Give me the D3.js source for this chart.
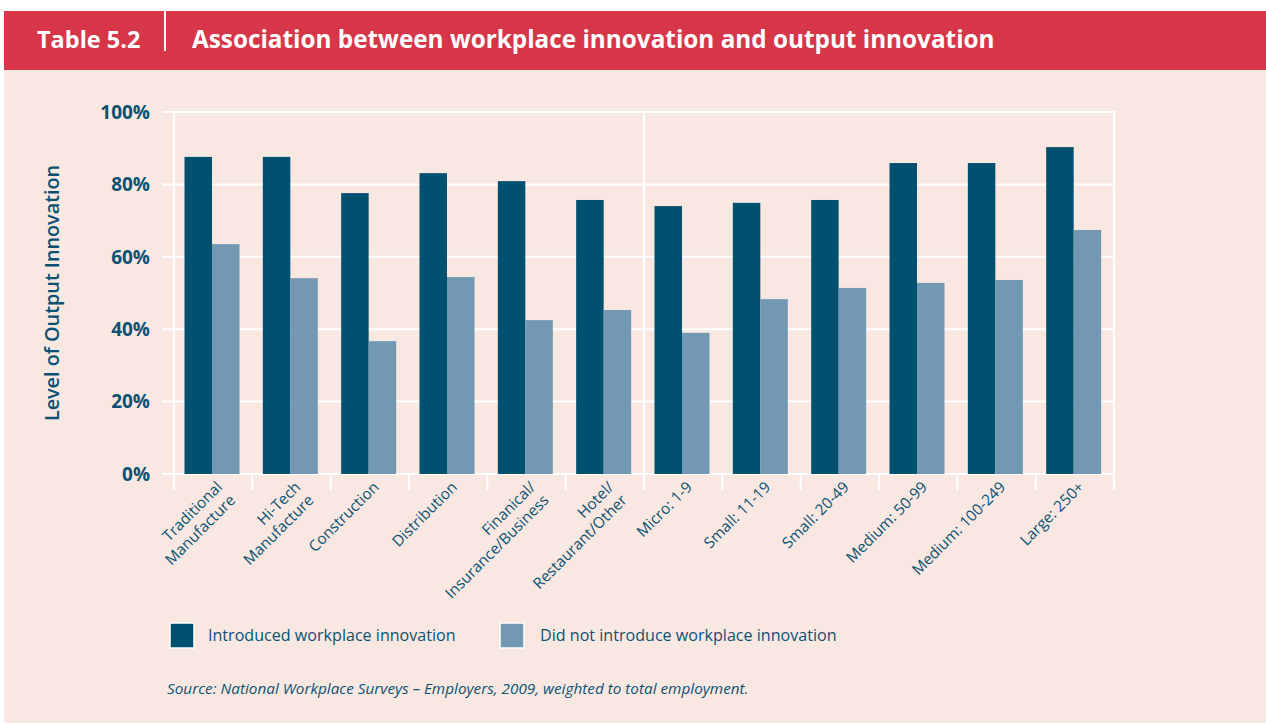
<!DOCTYPE html>
<html lang="en">
<head>
<meta charset="UTF-8">
<title>Association between workplace innovation and output innovation</title>
<script src="https://d3js.org/d3.v7.min.js"></script>
<style>
  body { margin: 0; background: #fff; }
  text { font-family: "Open Sans", sans-serif; }
</style>
</head>
<body>
<svg width="1266" height="724"></svg>
<script>
  // Chart data
  const categories = [
    ["Traditional", "Manufacture"],
    ["Hi-Tech", "Manufacture"],
    ["Construction"],
    ["Distribution"],
    ["Finanical/", "Insurance/Business"],
    ["Hotel/", "Restaurant/Other"],
    ["Micro: 1-9"],
    ["Small: 11-19"],
    ["Small: 20-49"],
    ["Medium: 50-99"],
    ["Medium: 100-249"],
    ["Large: 250+"]
  ];
  const introduced = [87.6, 87.6, 77.6, 83.1, 80.9, 75.7, 74.0, 74.9, 75.7, 85.9, 85.9, 90.3];
  const notIntroduced = [63.5, 54.1, 36.7, 54.4, 42.5, 45.3, 39.0, 48.3, 51.4, 52.8, 53.6, 67.4];
  const yTicks = [0, 20, 40, 60, 80, 100];
  const seriesNames = ["Introduced workplace innovation", "Did not introduce workplace innovation"];
  const colors = ["#00516f", "#7398b3"];
  const textColor = "#0b5272";

  const svg = d3.select("svg");

  // background + header band
  svg.append("rect").attr("x", 4).attr("y", 11).attr("width", 1262).attr("height", 712).attr("fill", "#f9e8e2");
  svg.append("rect").attr("x", 4).attr("y", 11).attr("width", 1262).attr("height", 59).attr("fill", "#d73649");
  svg.append("line").attr("x1", 165).attr("x2", 165).attr("y1", 11).attr("y2", 51)
      .attr("stroke", "#fff").attr("stroke-width", 2);
  svg.append("text").attr("x", 37).attr("y", 48).attr("fill", "#fff")
      .attr("font-size", 23.5).attr("font-weight", "bold").text("Table 5.2");
  svg.append("text").attr("x", 192).attr("y", 48).attr("fill", "#fff")
      .attr("font-size", 24.3).attr("font-weight", "bold")
      .text("Association between workplace innovation and output innovation");

  // scales
  const plotLeft = 174, plotRight = 1114, plotTop = 112, plotBottom = 474;
  const x = d3.scaleBand().domain(d3.range(categories.length)).range([plotLeft, plotRight]);
  const x1 = d3.scaleBand().domain([0, 1]).range([0, 55]);
  const y = d3.scaleLinear().domain([0, 100]).range([plotBottom, plotTop]);

  const g = svg.append("g");

  // horizontal grid lines
  g.selectAll(".hgrid").data(yTicks).enter().append("line")
      .attr("x1", plotLeft - 12).attr("x2", plotRight + 1)
      .attr("y1", d => y(d)).attr("y2", d => y(d))
      .attr("stroke", "#fff").attr("stroke-width", 2);

  // vertical lines: axis, separator, right edge
  [0, 6, 12].forEach(i => {
    const xx = i < 12 ? x(i) : plotRight;
    g.append("line").attr("x1", xx).attr("x2", xx).attr("y1", plotTop).attr("y2", plotBottom + 16)
        .attr("stroke", "#fff").attr("stroke-width", 2);
  });
  // category ticks
  g.selectAll(".xtick").data(d3.range(1, 12)).enter().append("line")
      .attr("x1", d => x(d)).attr("x2", d => x(d))
      .attr("y1", plotBottom).attr("y2", plotBottom + 16)
      .attr("stroke", "#fff").attr("stroke-width", 2);

  // bars
  const off = 10.5;
  [introduced, notIntroduced].forEach((vals, s) => {
    g.selectAll(".bar" + s).data(vals).enter().append("rect")
        .attr("x", (d, i) => x(i) + off + x1(s))
        .attr("y", d => y(d))
        .attr("width", x1.bandwidth())
        .attr("height", d => plotBottom - y(d))
        .attr("fill", colors[s]);
  });

  // y tick labels
  g.selectAll(".ylab").data(yTicks).enter().append("text")
      .attr("x", 150).attr("y", d => y(d)).attr("dy", "0.36em")
      .attr("text-anchor", "end").attr("fill", textColor)
      .attr("font-size", 19).attr("font-weight", "bold")
      .text(d => d + "%");

  // y axis title
  svg.append("text")
      .attr("transform", "translate(59,293) rotate(-90)")
      .attr("text-anchor", "middle").attr("fill", textColor)
      .attr("font-size", 19.8).attr("font-weight", 600)
      .text("Level of Output Innovation");

  // x labels
  const xl = g.selectAll(".xlab").data(categories).enter().append("text")
      .attr("transform", (d, i) => `translate(${x(i) + x.bandwidth() / 2 + 10},${plotBottom + 14}) rotate(-45)`)
      .attr("text-anchor", "end").attr("fill", textColor).attr("font-size", 15.3);
  xl.selectAll("tspan").data(d => d).enter().append("tspan")
      .attr("x", 0).attr("dy", (d, i) => i === 0 ? "0" : "1.22em")
      .text(d => d);

  // legend
  const legendX = [170, 500];
  seriesNames.forEach((name, s) => {
    svg.append("rect").attr("x", legendX[s]).attr("y", 623).attr("width", 24).attr("height", 25)
        .attr("fill", colors[s]).attr("stroke", "#fff").attr("stroke-width", 1.5);
    svg.append("text").attr("x", legendX[s] + 38 + s * 2).attr("y", 641)
        .attr("fill", textColor).attr("font-size", 16.1).text(name);
  });

  // source
  svg.append("text").attr("x", 167).attr("y", 694)
      .attr("fill", textColor).attr("font-size", 15.3).attr("font-style", "italic")
      .text("Source: National Workplace Surveys – Employers, 2009, weighted to total employment.");
</script>
</body>
</html>
